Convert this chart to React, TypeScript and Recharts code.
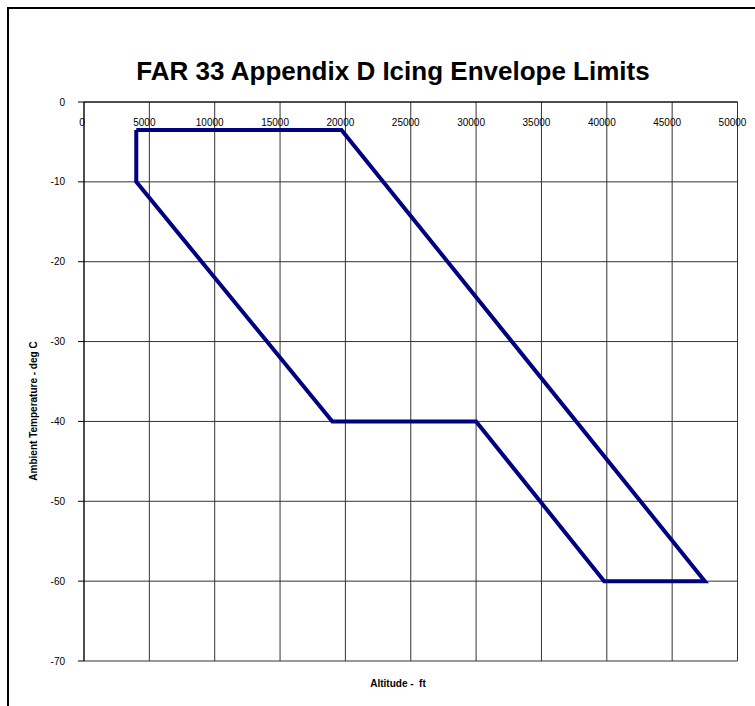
import { LineChart, Line, XAxis, YAxis, CartesianGrid } from 'recharts';

// envelope vertices, in drawing order (closed)
const altitudeFt = [4000, 19700, 47500, 39800, 30000, 19000, 4000, 4000];
const ambientTempC = [-3.5, -3.5, -60, -60, -40, -40, -10, -3.5];

const altitudeTicks = [0, 5000, 10000, 15000, 20000, 25000, 30000, 35000, 40000, 45000, 50000];
const tempTicks = [-70, -60, -50, -40, -30, -20, -10, 0];

const FONT = '"Liberation Sans", Arial, sans-serif';

const data = altitudeFt.map((alt, i) => ({ alt, temp: ambientTempC[i] }));

function renderAltitudeTick(props: any) {
  const { x, payload } = props;
  const dx = payload.value === 0 ? -2 : -5;
  return (
    <text key={payload.value} x={x + dx} y={126} textAnchor="middle" fontSize={10} fontFamily={FONT} fill="#000">
      {payload.value}
    </text>
  );
}

export default function App() {
  return (
    <div style={{ position: 'absolute', left: 0, top: 0, width: 755, height: 706, background: '#fff', overflow: 'hidden' }}>
      <div
        style={{
          position: 'absolute',
          left: 7,
          top: 7,
          right: 0,
          bottom: 0,
          borderLeft: '2px solid #000',
          borderTop: '2px solid #000',
        }}
      />
      <div
        style={{
          position: 'absolute',
          left: 393,
          top: 71,
          transform: 'translate(-50%, -50%)',
          whiteSpace: 'nowrap',
          fontFamily: FONT,
          fontWeight: 'bold',
          fontSize: 26,
          color: '#000',
        }}
      >
        FAR 33 Appendix D Icing Envelope Limits
      </div>
      <div
        style={{
          position: 'absolute',
          left: 33,
          top: 411,
          transform: 'translate(-50%, -50%) rotate(-90deg)',
          whiteSpace: 'nowrap',
          fontFamily: FONT,
          fontWeight: 'bold',
          fontSize: 10,
          color: '#000',
        }}
      >
        Ambient Temperature - deg C
      </div>
      <div
        style={{
          position: 'absolute',
          left: 398,
          top: 683,
          transform: 'translate(-50%, -50%)',
          whiteSpace: 'pre',
          fontFamily: FONT,
          fontWeight: 'bold',
          fontSize: 10,
          color: '#000',
        }}
      >
        {'Altitude -  ft'}
      </div>
      <div style={{ position: 'absolute', left: 0, top: 0 }}>
        <LineChart width={755} height={706} data={data} margin={{ top: 102, right: 17.5, bottom: 45, left: 24 }}>
          <CartesianGrid stroke="#333" horizontalValues={tempTicks} verticalValues={altitudeTicks} />
          <XAxis
            dataKey="alt"
            type="number"
            orientation="top"
            mirror
            domain={[0, 50000]}
            ticks={altitudeTicks}
            tickLine={false}
            axisLine={{ stroke: '#000' }}
            tick={renderAltitudeTick}
            interval={0}
            allowDataOverflow
          />
          <YAxis
            type="number"
            width={60}
            domain={[-70, 0]}
            ticks={tempTicks}
            interval={0}
            tickSize={6}
            tickMargin={13}
            axisLine={{ stroke: '#000' }}
            tickLine={{ stroke: '#000' }}
            tick={{ fontSize: 10, fill: '#000', fontFamily: FONT }}
            allowDataOverflow
          />
          <Line
            dataKey="temp"
            type="linear"
            stroke="#000080"
            strokeWidth={4}
            strokeLinejoin="miter"
            dot={false}
            activeDot={false}
            isAnimationActive={false}
          />
        </LineChart>
      </div>
    </div>
  );
}
